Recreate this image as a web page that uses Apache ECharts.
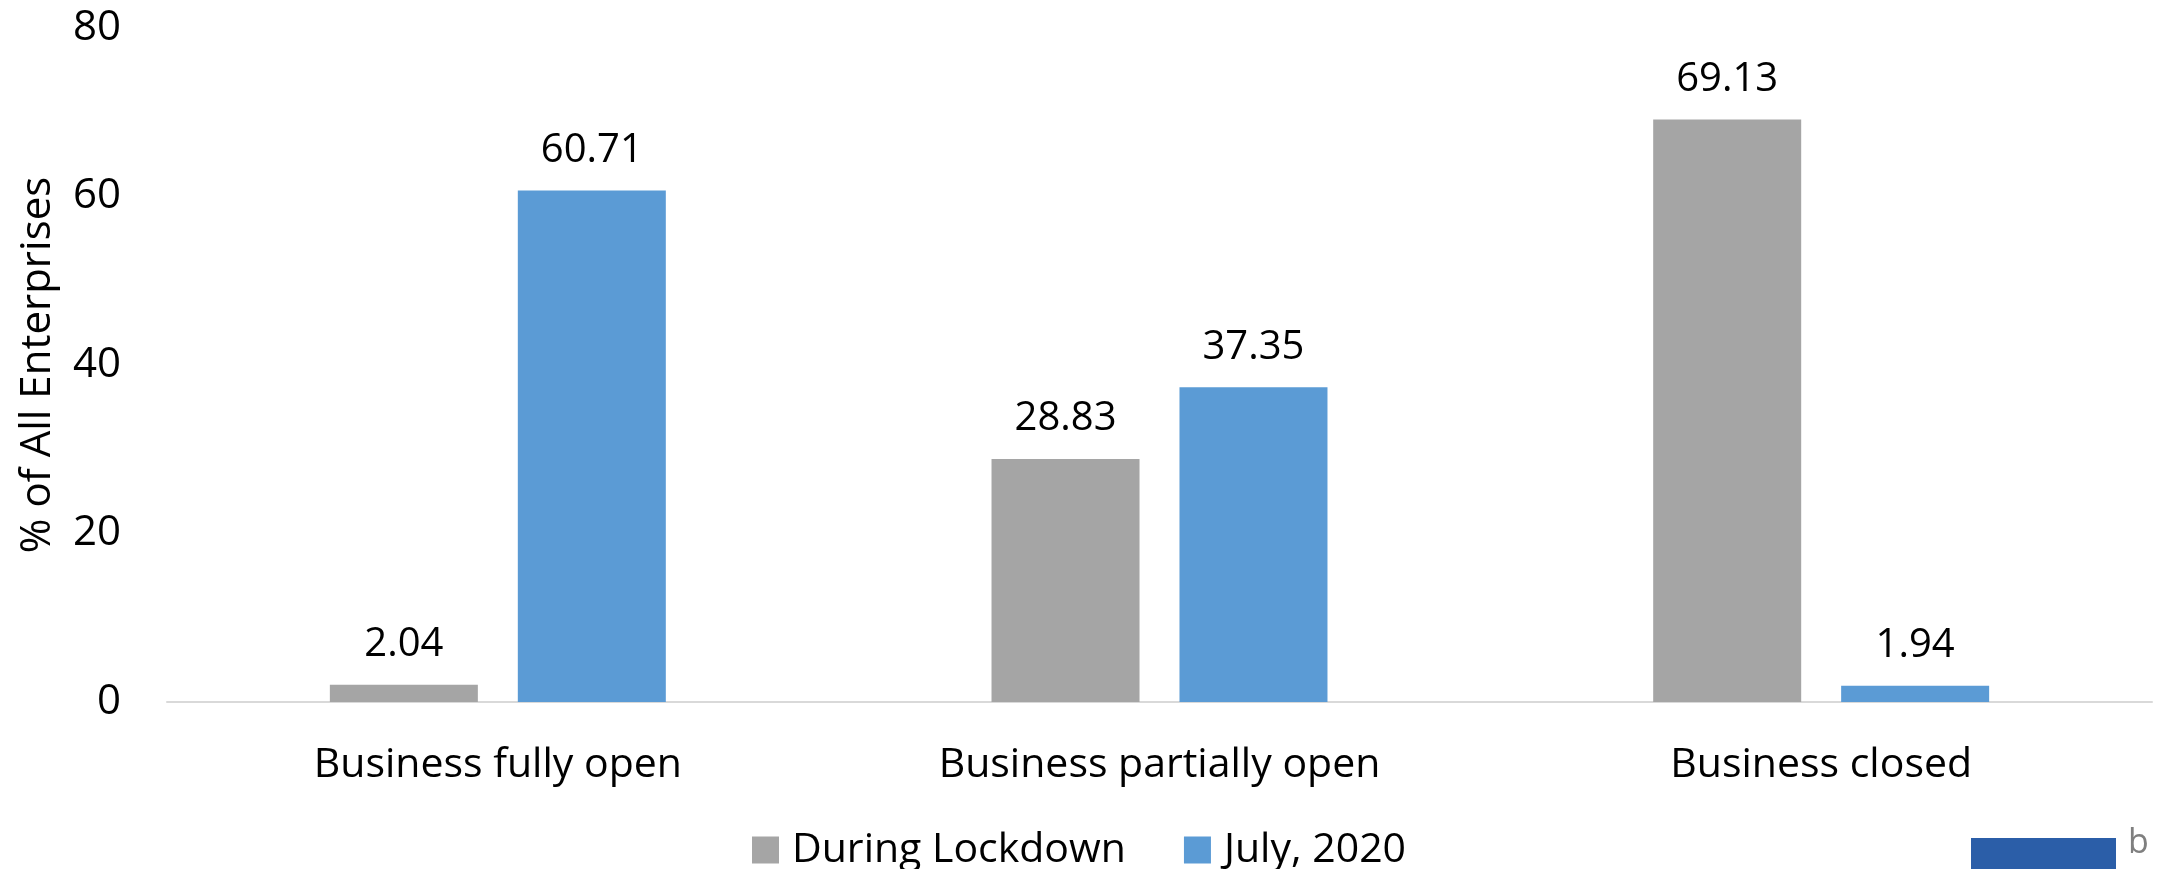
<!DOCTYPE html>
<html>
<head>
<meta charset="utf-8">
<script src="https://cdn.jsdelivr.net/npm/echarts@6/dist/echarts.min.js"></script>
<style>
html,body{margin:0;padding:0;background:#fff;}
#chart{width:2158px;height:869px;}
</style>
</head>
<body>
<div id="chart"></div>
<script>
const categories = ['Business fully open', 'Business partially open', 'Business closed'];
const duringLockdown = [2.04, 28.83, 69.13];
const july2020 = [60.71, 37.35, 1.94];
const seriesNames = ['During Lockdown', 'July, 2020'];
const yTicks = [0, 20, 40, 60, 80];

const FONT = '"Open Sans", "Noto Sans", sans-serif';
const chart = echarts.init(document.getElementById('chart'), null, {renderer: 'canvas'});

const labelStyle = {
  show: true,
  position: 'top',
  distance: 16,
  color: '#000',
  fontFamily: FONT,
  fontSize: 40,
  lineHeight: 48,
  formatter: p => p.value.toFixed(2)
};

chart.setOption({
  animation: false,
  backgroundColor: '#fff',
  grid: {left: 167, right: 6, top: 28, bottom: 167, containLabel: false},
  legend: {
    data: seriesNames,
    left: 'center',
    top: 821,
    itemWidth: 27,
    itemHeight: 27,
    itemGap: 58,
    icon: 'rect',
    textStyle: {fontFamily: FONT, fontSize: 41, lineHeight: 48, color: '#000', padding: [0, 0, 0, 8]}
  },
  xAxis: {
    type: 'category',
    data: categories,
    axisLine: {show: true, lineStyle: {color: '#d9d9d9', width: 2}},
    axisTick: {show: false},
    axisLabel: {fontFamily: FONT, fontSize: 41, lineHeight: 48, color: '#000', margin: 39, interval: 0}
  },
  yAxis: {
    type: 'value',
    min: yTicks[0],
    max: yTicks[yTicks.length - 1],
    interval: 20,
    name: '% of All Enterprises',
    nameLocation: 'middle',
    nameGap: 108,
    nameRotate: 90,
    nameTextStyle: {fontFamily: FONT, fontSize: 42, color: '#000'},
    axisLine: {show: false},
    axisTick: {show: false},
    splitLine: {show: false},
    axisLabel: {fontFamily: FONT, fontSize: 42, color: '#000', margin: 46}
  },
  series: [
    {
      name: seriesNames[0],
      type: 'bar',
      data: duringLockdown,
      barWidth: 148,
      barGap: '27%',
      itemStyle: {color: '#a5a5a5'},
      label: labelStyle
    },
    {
      name: seriesNames[1],
      type: 'bar',
      data: july2020,
      barWidth: 148,
      barGap: '27%',
      itemStyle: {color: '#5b9bd5'},
      label: labelStyle
    }
  ],
  graphic: [
    {type: 'rect', left: 1971, top: 838, shape: {width: 145, height: 40}, style: {fill: '#2b5ea8'}, silent: true},
    {type: 'text', left: 2128, top: 826, style: {text: 'b', fill: '#7f7f7f', font: '34px "Open Sans", sans-serif'}, silent: true}
  ]
});
</script>
</body>
</html>
